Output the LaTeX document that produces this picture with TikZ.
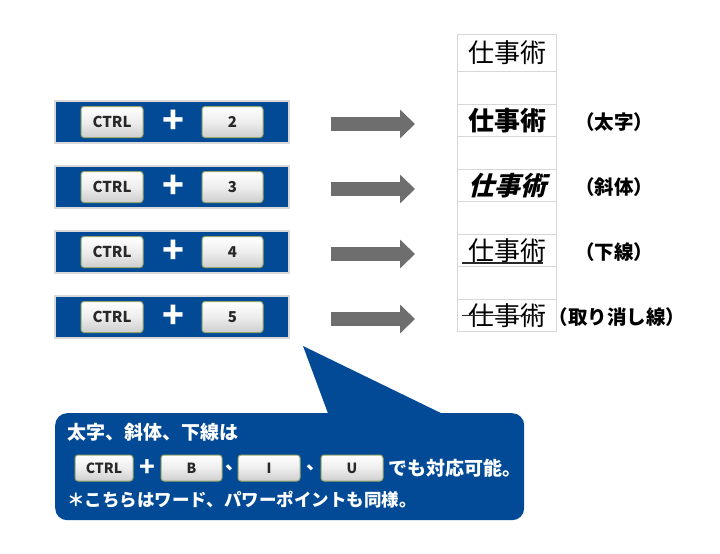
\documentclass[tikz,border=0pt]{standalone}
\usepackage{fontspec}
\usepackage{tikz}
\usetikzlibrary{arrows.meta,positioning}
\newfontfamily\jp{Noto Sans CJK JP}
\newfontfamily\jpslant[FakeSlant=0.25]{Noto Sans CJK JP}
\definecolor{barblue}{RGB}{2,74,150}
\definecolor{keyedge}{RGB}{150,165,105}
\definecolor{keytext}{RGB}{40,40,40}
\definecolor{arrowgray}{RGB}{110,110,110}
\definecolor{cellline}{RGB}{215,215,215}
\tikzset{
    % 青い帯
    bluebar/.style={
        fill=barblue,
        draw=gray!30,
        line width=1.2pt,
        minimum width=234pt,
        minimum height=42pt,
        inner sep=0pt
    },
    % キーボードのキー
    keycap/.style={
        rounded corners=3pt,
        draw=keyedge,
        line width=1pt,
        top color=white,
        bottom color=gray!38,
        middle color=gray!14,
        minimum height=31pt,
        inner sep=0pt,
        text=keytext,
        font=\jp\bfseries\fontsize{15}{17}\selectfont
    },
    smallkey/.style={
        keycap,
        minimum height=26pt,
        font=\jp\bfseries\fontsize{14}{16}\selectfont
    },
    plussign/.style={
        text=white,
        inner sep=0pt,
        font=\jp\bfseries\fontsize{36}{38}\selectfont
    },
    grayarrow/.style={
        arrowgray,
        line width=14pt,
        -{Triangle[length=15pt,width=28pt]}
    },
    cell/.style={
        draw=cellline,
        line width=1pt,
        minimum width=99pt,
        inner sep=0pt,
        anchor=north west,
        font=\jp\fontsize{26}{28}\selectfont
    },
    sidelabel/.style={
        inner sep=0pt,
        font=\jp\bfseries\fontsize{19.5}{21}\selectfont
    },
    notetext/.style={
        text=white,
        inner sep=0pt,
        font=\jp\bfseries\fontsize{19}{21}\selectfont
    }
}

\begin{document}
\begin{tikzpicture}[x=1pt,y=-1pt]
    \useasboundingbox (0,0) rectangle (720,554);

    % ===================== 右の表 =====================
    \node[cell, minimum height=37pt] (c1) at (457,34) {仕事術};
    \foreach \i/\top in {2/71, 3/103.5, 4/136, 5/168.5, 6/201, 7/233.5, 8/266, 9/298.5}
        \node[cell, minimum height=32.5pt] (c\i) at (457,\top) {};
    \node[font=\jp\bfseries\fontsize{26}{28}\selectfont] (w3) at (c3) {仕事術};
    \node[font=\jpslant\bfseries\fontsize{26}{28}\selectfont] (w5) at (c5) {仕事術};
    \node[font=\jp\fontsize{26}{28}\selectfont] (w7) at (c7) {仕事術};
    \node[font=\jp\fontsize{26}{28}\selectfont] (w9) at (c9) {仕事術};
    \draw[line width=1.2pt, keytext] ([xshift=5pt,yshift=4pt]c7.south west) -- ([xshift=-14pt,yshift=4pt]c7.south east);
    \draw[line width=1.5pt, keytext] ([xshift=5pt]c9.west) -- ([xshift=-14pt]c9.east);

    % ===================== 左の帯 =====================
    \foreach \n/\y/\row/\lx/\lbl in {2/122/3/614/太字, 3/187/5/614/斜体, 4/252/7/614/下線, 5/317/9/617/取り消し線}{
        \node[bluebar] (bar\n) at (172,\y) {};
        \node[keycap, minimum width=62pt] (ctrl\n) at ([xshift=-60pt]bar\n.center) {CTRL};
        \node[plussign] (plus\n) at ([xshift=1pt]bar\n.center) {+};
        \node[keycap, minimum width=61pt] (num\n) at ([xshift=60.5pt]bar\n.center) {\n};
        \draw[grayarrow] ([xshift=41pt,yshift=-2pt]bar\n.east) -- ([xshift=-42pt,yshift=-2pt]bar\n.east -| c\row.west);
        \node[sidelabel] (lab\n) at (\lx,\y) {（\lbl）};
    }

    % ===================== 吹き出し =====================
    \node[fill=barblue, rounded corners=12pt, anchor=north west,
          minimum width=469pt, minimum height=107pt, inner sep=0pt] (note) at (55,413) {};
    \coordinate (tip) at (303,346);
    \fill[barblue] (tip) -- ([xshift=274pt,yshift=-3pt]note.north west)
        -- ([xshift=392pt,yshift=-3pt]note.north west) -- cycle;

    \node[notetext, anchor=west] (line1) at (67,432) {太字、斜体、下線は};
    \node[smallkey, minimum width=58pt] (kctrl) at (104,468) {CTRL};
    \node[plussign, font=\jp\bfseries\fontsize{26}{28}\selectfont] (kplus) at (147,468) {+};
    \node[smallkey, minimum width=61pt] (kb) at (191.5,468) {B};
    \node[notetext] (comma1) at (235,468) {、};
    \node[smallkey, minimum width=62pt] (ki) at (269,468) {I};
    \node[notetext] (comma2) at (316,468) {、};
    \node[smallkey, minimum width=62pt] (ku) at (352,468) {U};
    \node[notetext, anchor=west] (line2) at (388,468) {でも対応可能。};
    \node[notetext, anchor=west, font=\jp\bfseries\fontsize{17.5}{19}\selectfont] (line3) at (67,500) {＊こちらはワード、パワーポイントも同様。};
\end{tikzpicture}
\end{document}
